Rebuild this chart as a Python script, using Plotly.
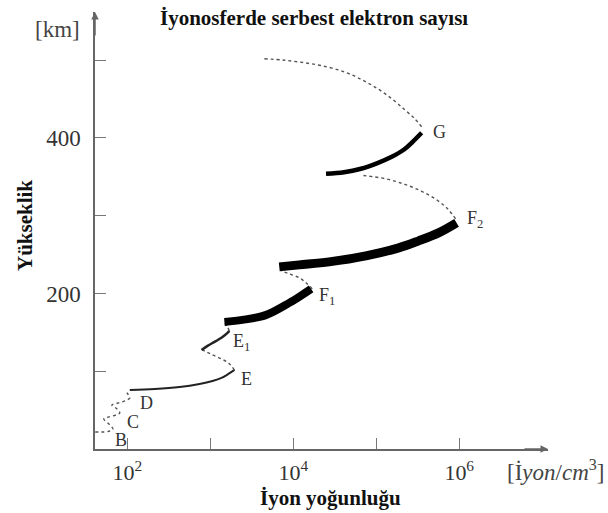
import math
import plotly.graph_objects as go

# Ion density (ions/cm^3) vs. altitude (km) for the ionospheric layers
bcd_x = [41, 52, 62, 67, 60, 52, 60, 73, 81, 75, 65, 77, 93, 107, 101, 96]
bcd_y = [21.9, 21.9, 23.2, 25.7, 32.2, 38.6, 41.2, 43.8, 46.3, 51.5, 56.6, 59.2, 61.8, 65.6, 70.8, 74.6]

e_x = [107, 214, 427, 741, 1062, 1361, 1652, 1954]
e_y = [75.9, 77.2, 79.8, 83.7, 87.5, 91.4, 96.5, 101.7]

ee1_x = [1954, 1652, 1361, 1062, 806]
ee1_y = [101.7, 110.7, 115.8, 121.0, 127.4]

e1_x = [783, 925, 1122, 1400, 1564, 1698]
e1_y = [127.4, 132.6, 137.7, 144.1, 148.0, 151.9]

e1f1_x = [1698, 1607, 1521, 1479]
e1f1_y = [151.9, 157.0, 160.9, 163.4]

f1_x = [1479, 2433, 4729, 8935, 12800, 16400]
f1_y = [163.4, 166.0, 172.5, 187.9, 198.2, 205.9]

f1f2_x = [16900, 14300, 11800, 8935, 7160]
f1f2_y = [205.9, 213.6, 220.1, 225.2, 229.1]

f2_x = [6776, 11780, 26980, 74990, 186600, 324300, 563400, 929000]
f2_y = [234.2, 236.8, 240.7, 248.4, 258.7, 267.7, 278.0, 290.9]

f2g_x = [903600, 724400, 534600, 352400, 220300, 130300, 65300]
f2g_y = [296.0, 308.9, 320.5, 331.4, 340.4, 347.5, 352.0]

g_x = [24800, 40800, 65300, 101600, 153800, 214300, 274800, 352400]
g_y = [353.9, 355.9, 360.4, 367.4, 375.8, 384.8, 395.1, 406.7]

gtop_x = [352400, 290300, 220300, 153800, 101600, 65300, 40800, 23500, 13520, 7780, 4480]
gtop_y = [414.4, 424.7, 436.3, 450.5, 464.0, 475.5, 485.2, 492.3, 496.8, 500.0, 501.9]

layer_names = ["B", "C", "D", "E", "E<sub>1</sub>", "F<sub>1</sub>", "F<sub>2</sub>", "G"]
layer_label_x = [67, 93, 134, 2245, 1798, 19400, 1190000, 452000]
layer_label_y = [11.6, 34.7, 59.2, 90.1, 136.4, 195.6, 294.7, 408.0]

x_tick_vals = [1e2, 1e3, 1e4, 1e5, 1e6]
x_tick_text = ["10<sup>2</sup>", "", "10<sup>4</sup>", "", "10<sup>6</sup>"]
y_tick_vals = [100, 200, 300, 400, 500]
y_tick_text = ["", "200", "", "400", ""]

SERIF = "Liberation Serif"
DOT = dict(color="#555555", width=1.4, dash="dot")

fig = go.Figure()


def add_line(xs, ys, line):
    fig.add_trace(go.Scatter(x=xs, y=ys, mode="lines", line=dict(shape="spline", **line),
                             hoverinfo="skip", showlegend=False))


add_line(bcd_x, bcd_y, DOT)
add_line(e_x, e_y, dict(color="#222222", width=2))
add_line(ee1_x, ee1_y, DOT)
add_line(e1_x, e1_y, dict(color="#222222", width=2.5))
add_line(e1f1_x, e1f1_y, DOT)
add_line(f1_x, f1_y, dict(color="#000000", width=8))
add_line(f1f2_x, f1f2_y, DOT)
add_line(f2_x, f2_y, dict(color="#000000", width=9))
add_line(f2g_x, f2g_y, DOT)
add_line(g_x, g_y, dict(color="#000000", width=4.5))
add_line(gtop_x, gtop_y, DOT)

W, H = 608, 513
L, R, T, B = 95, 548, 12, 449


def px(x, y):
    return (x - L) / (R - L), (B - y) / (B - T)


annotations = []
for name, lx, ly in zip(layer_names, layer_label_x, layer_label_y):
    annotations.append(dict(x=math.log10(lx), y=ly, xref="x", yref="y", text=name,
                            showarrow=False, xanchor="left", yanchor="middle",
                            font=dict(family=SERIF, size=18, color="#333333")))


def text_at(x, y, text, size, bold=False, angle=0, color="#333333"):
    xp, yp = px(x, y)
    annotations.append(dict(x=xp, y=yp, xref="paper", yref="paper",
                            text=f"<b>{text}</b>" if bold else text,
                            showarrow=False, xanchor="center", yanchor="middle",
                            textangle=angle, font=dict(family=SERIF, size=size, color=color)))


text_at(314, 18, "İyonosferde serbest elektron sayısı", 21, bold=True, color="#111111")
text_at(57, 30, "[km]", 23, color="#444444")
text_at(25, 226, "Yükseklik", 21, bold=True, angle=-90, color="#111111")
text_at(330, 498, "İyon yoğunluğu", 21, bold=True, color="#111111")
text_at(555, 470, "[İ<i>yon</i>/<i>cm</i><sup>3</sup>]", 23, color="#444444")

# arrowheads at the ends of the axes
annotations.append(dict(x=1, y=0, xref="paper", yref="paper", ax=-25, ay=0, text="",
                        showarrow=True, arrowhead=2, arrowsize=1, arrowwidth=1.5,
                        arrowcolor="#666666"))
annotations.append(dict(x=0, y=1, xref="paper", yref="paper", ax=0, ay=25, text="",
                        showarrow=True, arrowhead=2, arrowsize=1, arrowwidth=1.5,
                        arrowcolor="#666666"))

fig.update_layout(
    width=W, height=H,
    margin=dict(l=L, r=W - R, t=T, b=H - B),
    paper_bgcolor="white", plot_bgcolor="white",
    annotations=annotations,
    xaxis=dict(type="log", range=[1.61, 7.07], showgrid=False, zeroline=False,
               showline=True, linecolor="#666666", linewidth=1.5,
               ticks="inside", ticklen=11, tickwidth=1, tickcolor="#777777",
               ticklabelstandoff=3,
               tickvals=x_tick_vals, ticktext=x_tick_text,
               tickfont=dict(family=SERIF, size=22, color="#333333")),
    yaxis=dict(range=[0, 562], showgrid=False, zeroline=False,
               showline=True, linecolor="#666666", linewidth=1.5,
               ticks="inside", ticklen=11, tickwidth=1, tickcolor="#777777",
               ticklabelstandoff=8,
               tickvals=y_tick_vals, ticktext=y_tick_text,
               tickfont=dict(family=SERIF, size=23, color="#333333")),
)

fig.write_html("out.html")
